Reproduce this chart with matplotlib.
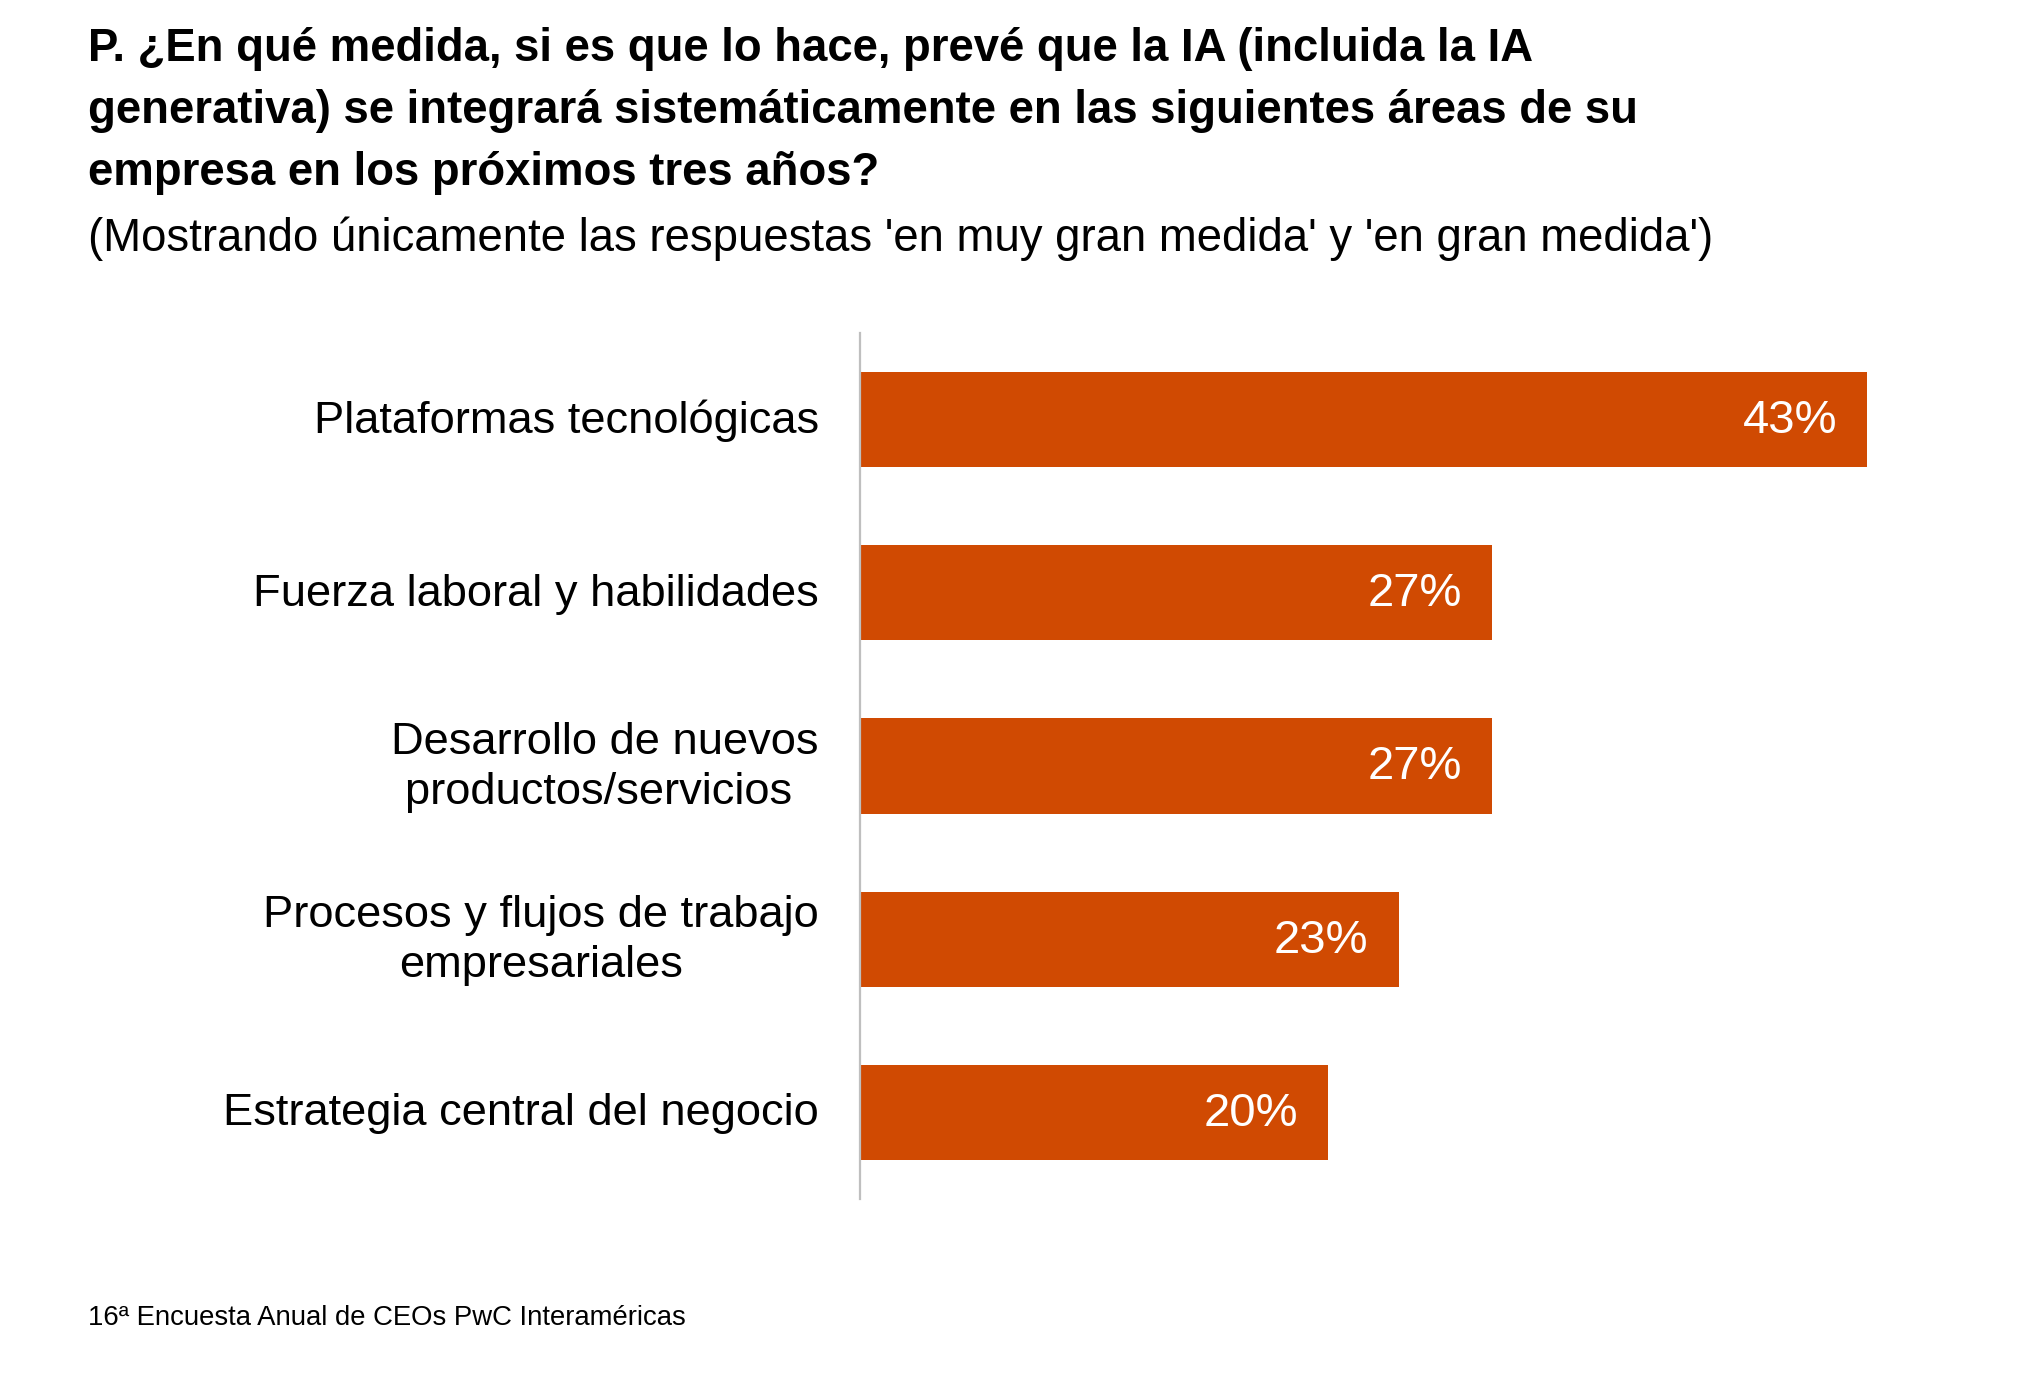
import matplotlib
matplotlib.use('Agg')
import matplotlib.pyplot as plt

plt.rcParams['font.family'] = ['Liberation Sans', 'DejaVu Sans']

# datos
categorias = ['Plataformas tecnológicas',
              'Fuerza laboral y habilidades',
              'Desarrollo de nuevos\nproductos/servicios ',
              'Procesos y flujos de trabajo\nempresariales',
              'Estrategia central del negocio']
valores = [43, 27, 27, 23, 20]
etiquetas = ['43%', '27%', '27%', '23%', '20%']

titulo = ['P. ¿En qué medida, si es que lo hace, prevé que la IA (incluida la IA',
          'generativa) se integrará sistemáticamente en las siguientes áreas de su',
          'empresa en los próximos tres años?']
subtitulo = "(Mostrando únicamente las respuestas 'en muy gran medida' y 'en gran medida')"
fuente = '16ª Encuesta Anual de CEOs PwC Interaméricas'

naranja = '#D04A02'

fig = plt.figure(figsize=(20.32, 13.91), dpi=100)
ax = fig.add_axes([0.4232, 0.138, 0.5763, 0.6226])

pos = list(range(len(categorias)))
ax.barh(pos, valores, height=0.55, color=naranja)
ax.set_xlim(0, 50)
ax.set_ylim(4.5, -0.5)

for p, v, t in zip(pos, valores, etiquetas):
    ax.annotate(t, (v, p), xytext=(-21.6, -1), textcoords='offset points',
                ha='right', va='center', color='white', fontsize=34)

for p, c in zip(pos, categorias):
    ax.annotate(c, (0, p), xytext=(-29.5, -1), textcoords='offset points',
                ha='right', va='center', multialignment='center',
                fontsize=32.6, color='black', linespacing=1.28)

ax.set_xticks([])
ax.set_yticks([])
for s in ['top', 'right', 'bottom']:
    ax.spines[s].set_visible(False)
ax.spines['left'].set_color('#BFBFBF')
ax.spines['left'].set_linewidth(1.6)

# titulo, linea por linea
for linea, yb in zip(titulo, [61, 123, 185]):
    fig.text(0.0433, 1 - yb / 1391, linea, fontsize=32.8, fontweight='bold',
             va='baseline', ha='left')
fig.text(0.0433, 1 - 251 / 1391, subtitulo, fontsize=32.8, va='baseline', ha='left')
fig.text(0.0433, 1 - 1325 / 1391, fuente, fontsize=19.8, va='baseline', ha='left')

fig.savefig('out.png', dpi=100)
